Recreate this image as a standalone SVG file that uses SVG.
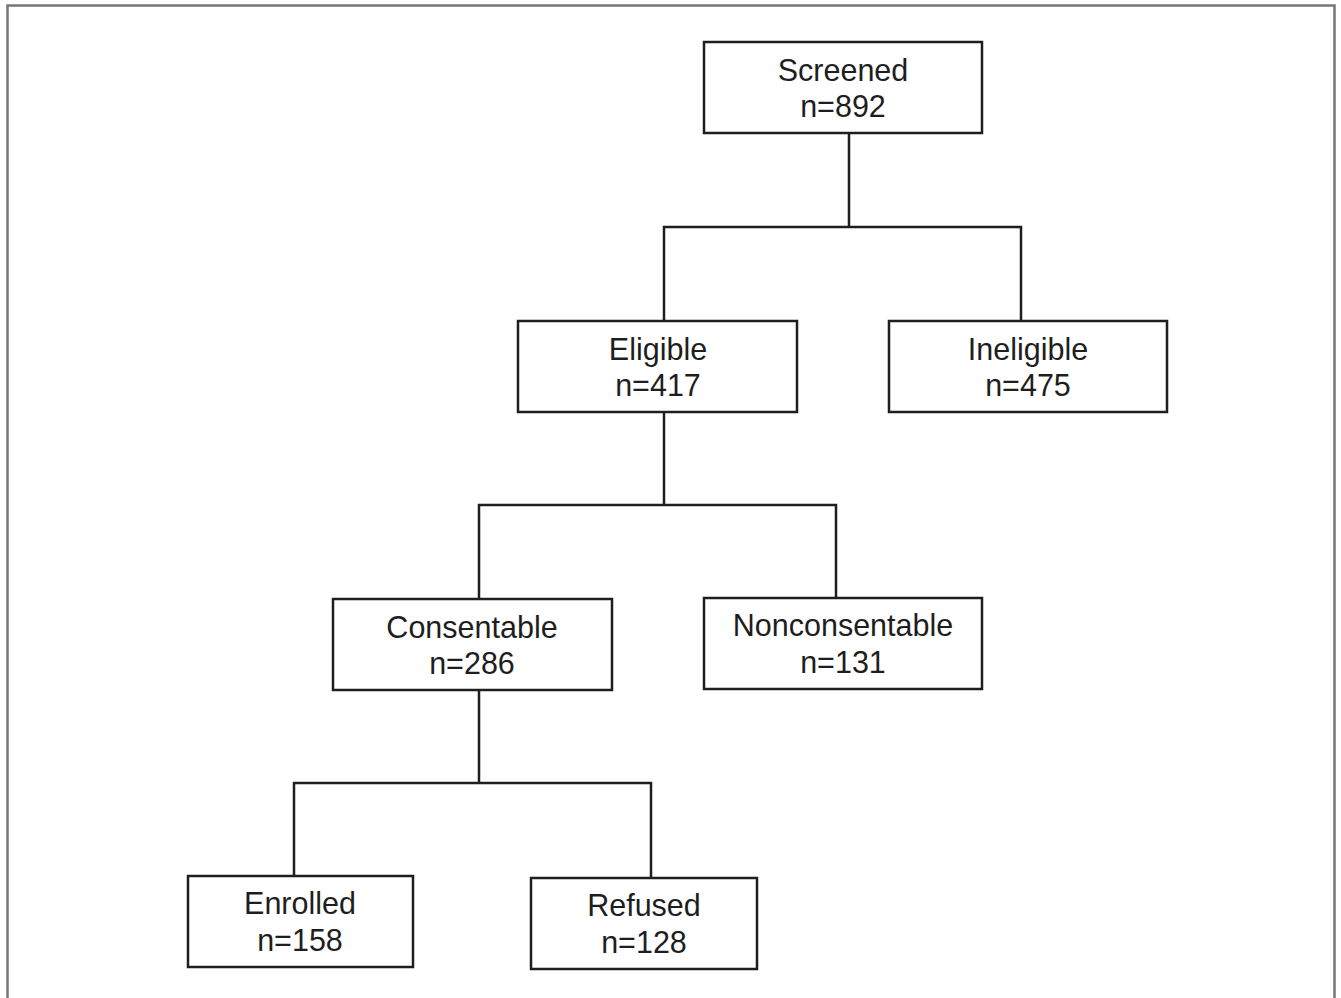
<svg xmlns="http://www.w3.org/2000/svg" width="1341" height="998" viewBox="0 0 1341 998">
<style>
.box{fill:#fff;stroke:#1e1e1e;stroke-width:2.5}
.t{font-family:"Liberation Sans",Arial,sans-serif;font-size:30.5px;fill:#1e1e1e;text-anchor:middle}
.c{fill:none;stroke:#1e1e1e;stroke-width:2.5}
</style>
<rect x="0" y="0" width="1341" height="998" fill="#fff"/>
<path d="M7.5,1000 V5.5 H1334.5 V1000" fill="none" stroke="#777" stroke-width="2.5"/>
<g id="connectors">
<path class="c" d="M849,133 V227 M664,321 V227 H1021 V321"/>
<path class="c" d="M664,412 V505 M479,599 V505 H836 V598"/>
<path class="c" d="M479,690 V783 M294,876 V783 H651 V878"/>
</g>
<g id="screened"><rect class="box" x="704" y="42" width="278" height="91"/><text class="t" x="843" y="81">Screened</text><text class="t" x="843" y="117">n=892</text></g>
<g id="eligible"><rect class="box" x="518" y="321" width="279" height="91"/><text class="t" x="658" y="360">Eligible</text><text class="t" x="658" y="396">n=417</text></g>
<g id="ineligible"><rect class="box" x="889" y="321" width="278" height="91"/><text class="t" x="1028" y="360">Ineligible</text><text class="t" x="1028" y="396">n=475</text></g>
<g id="consentable"><rect class="box" x="333" y="599" width="279" height="91"/><text class="t" x="472" y="638">Consentable</text><text class="t" x="472" y="674">n=286</text></g>
<g id="nonconsentable"><rect class="box" x="704" y="598" width="278" height="91"/><text class="t" x="843" y="636">Nonconsentable</text><text class="t" x="843" y="673">n=131</text></g>
<g id="enrolled"><rect class="box" x="188" y="876" width="225" height="91"/><text class="t" x="300" y="914">Enrolled</text><text class="t" x="300" y="951">n=158</text></g>
<g id="refused"><rect class="box" x="531" y="878" width="226" height="91"/><text class="t" x="644" y="916">Refused</text><text class="t" x="644" y="953">n=128</text></g>
</svg>
